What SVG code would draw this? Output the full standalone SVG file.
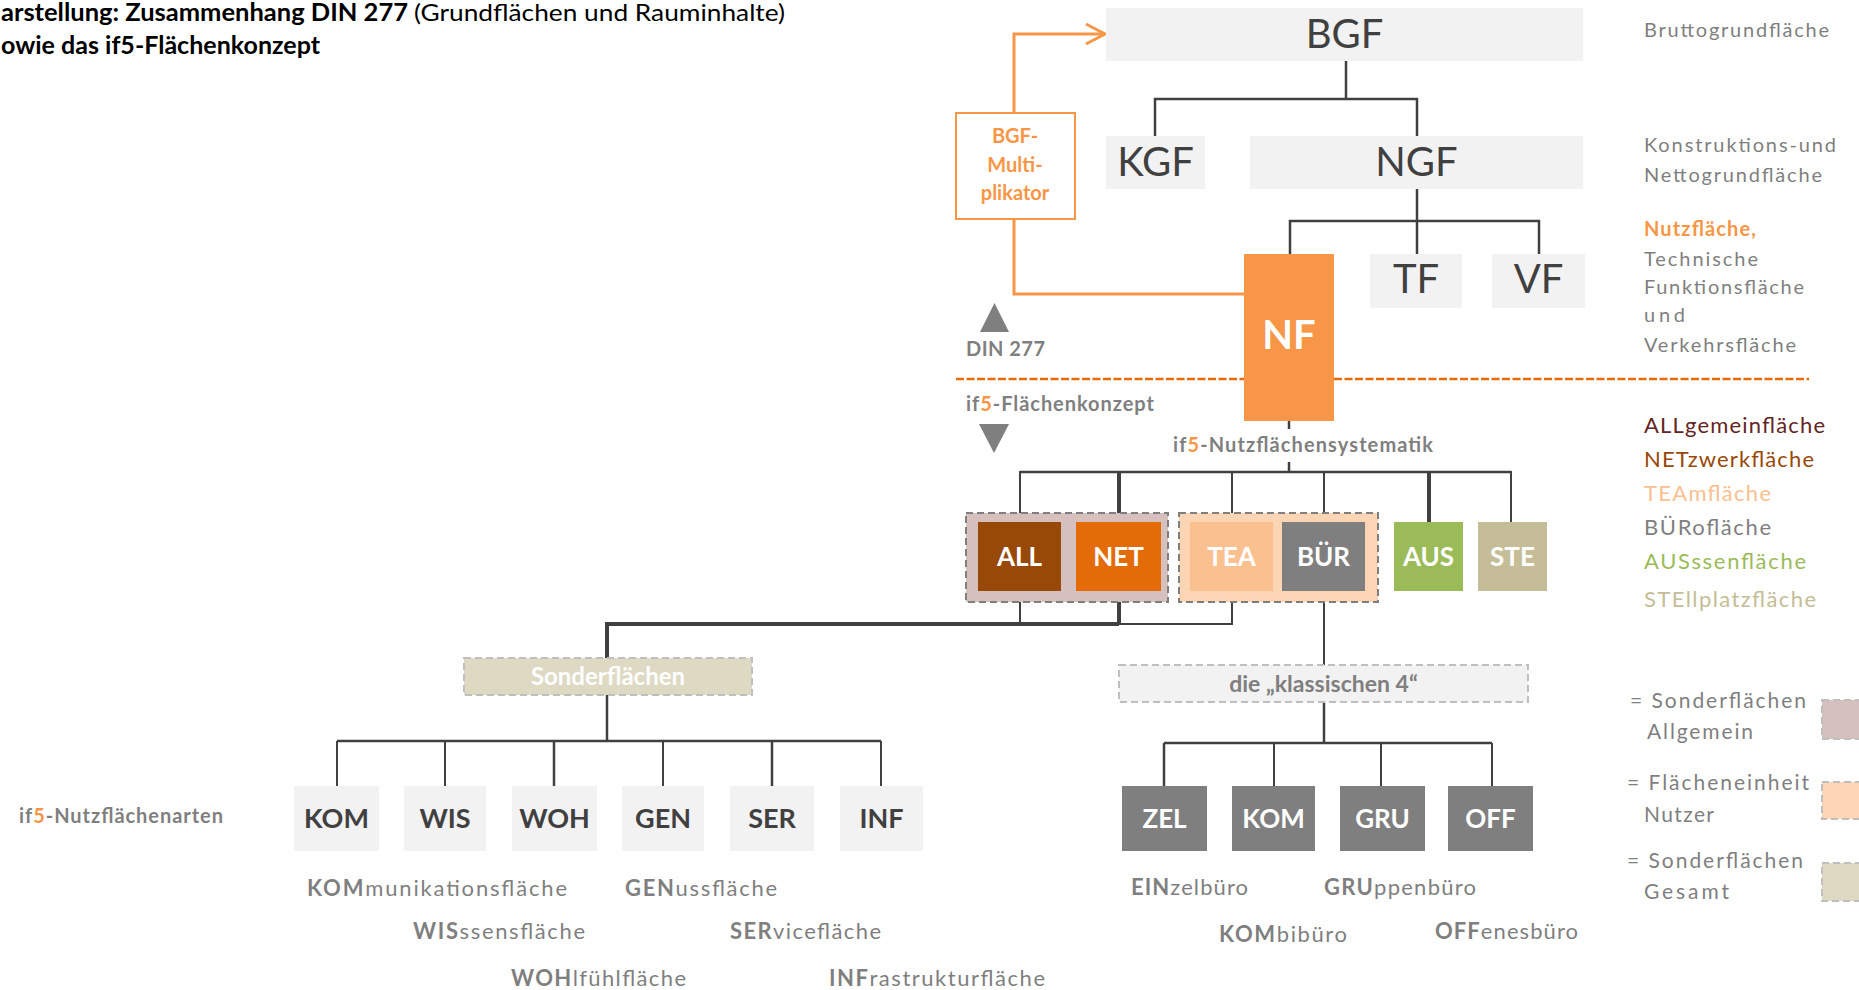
<svg xmlns="http://www.w3.org/2000/svg" width="1859" height="990" viewBox="0 0 1859 990">
  <defs>
    <style>
      text { font-family: Lato, "Open Sans", "Liberation Sans", sans-serif; }
      .ttl { font-size: 24px; fill: #000; }
      .b { font-weight: bold; }
      .big { font-size: 40px; fill: #404040; text-anchor: middle; }
      .box-lt { fill: #f2f2f2; }
      .tag { font-size: 26px; font-weight: bold; fill: #fff; text-anchor: middle; }
      .tagd { font-size: 27px; font-weight: bold; fill: #404040; text-anchor: middle; }
      .gr { fill: #7f7f7f; }
      .side { font-size: 20px; fill: #7f7f7f; }
      .lg { font-size: 21px; fill: #7f7f7f; }
      .leg { font-size: 22px; }
      .lbl { font-size: 22px; fill: #7f7f7f; }
      .sec { font-size: 20px; font-weight: bold; fill: #7f7f7f; }
      .mul { font-size: 20px; font-weight: bold; fill: #f79646; text-anchor: middle; }
      .o5 { fill: #f79646; }
      .ln { stroke: #404040; stroke-width: 2.5; fill: none; }
      .lnb { stroke: #404040; stroke-width: 4; fill: none; }
      .lnt { stroke: #404040; stroke-width: 2; fill: none; }
      .or { stroke: #f79646; stroke-width: 3; fill: none; }
      .grp { stroke: #7f7f7f; stroke-width: 2; stroke-dasharray: 7 4; }
      .dsh { stroke: #bfbfbf; stroke-width: 2; stroke-dasharray: 7 4; }
    </style>
  </defs>

  <!-- heading -->
  <g id="title">
    <text class="ttl b" x="1" y="21" textLength="407" lengthAdjust="spacingAndGlyphs">arstellung: Zusammenhang DIN 277</text>
    <text class="ttl" x="414" y="21" textLength="371" lengthAdjust="spacingAndGlyphs">(Grundflächen und Rauminhalte)</text>
    <text class="ttl b" x="1" y="54" textLength="319" lengthAdjust="spacingAndGlyphs">owie das if5-Flächenkonzept</text>
  </g>

  <!-- divider between DIN 277 and if5 -->
  <g id="divider">
    <line x1="956" y1="379" x2="1809" y2="379" stroke="#e46c0a" stroke-width="2.5" stroke-dasharray="8 2.5"/>
    <polygon class="gr" points="980,332 994.5,303 1009,332"/>
    <text class="sec" x="966" y="356" textLength="79" lengthAdjust="spacing">DIN 277</text>
    <text class="sec" x="966" y="411" textLength="188" lengthAdjust="spacing">if<tspan class="o5">5</tspan>-Flächenkonzept</text>
    <polygon class="gr" points="979,424 1009,424 994,453"/>
  </g>

  <!-- connectors -->
  <g id="connectors">
    <!-- DIN 277 tree -->
    <path class="ln" d="M1346 61 V99"/>
    <path class="ln" d="M1155 136 V99 H1417 V136" stroke-width="3"/>
    <path class="ln" d="M1417 189 V254" stroke-width="3"/>
    <path class="ln" d="M1290 254 V221 H1539 V254"/>
    <!-- multiplier loop -->
    <path class="or" d="M1244 294 H1014 V219"/>
    <path class="or" d="M1014 113 V34 H1104"/>
    <polyline class="or" points="1086,24 1105,34 1086,44" stroke-width="3.5"/>
    <!-- NF to if5 areas -->
    <path class="ln" d="M1289 421 V429"/>
    <path class="ln" d="M1289 462 V473"/>
    <path class="lnt" d="M1020 522 V472 H1511 V522"/>
    <path class="ln" d="M1020 472 H1511" stroke-width="3"/>
    <path class="lnb" d="M1119 472 V522" stroke-width="3"/>
    <path class="lnt" d="M1232 472 V522"/>
    <path class="lnt" d="M1324 472 V522"/>
    <path class="lnb" d="M1429 472 V522" stroke-width="3"/>
    <!-- special areas branch -->
    <path class="lnt" d="M1020 591 V624"/>
    <path class="lnb" d="M1119 591 V624" stroke-width="3"/>
    <path class="lnt" d="M1232 591 V624 H1119"/>
    <path class="lnb" d="M1119 624 H607 V658"/>
    <path class="ln" d="M607 695 V741"/>
    <path class="ln" d="M337 741 H881" stroke-width="3"/>
    <path class="lnt" d="M337 741 V786"/>
    <path class="lnt" d="M445 741 V786"/>
    <path class="ln" d="M554 741 V786" stroke-width="3"/>
    <path class="lnt" d="M663 741 V786"/>
    <path class="ln" d="M772 741 V786" stroke-width="3"/>
    <path class="lnt" d="M881 741 V786"/>
    <!-- office branch -->
    <path class="lnt" d="M1324 591 V665"/>
    <path class="ln" d="M1324 702 V743"/>
    <path class="ln" d="M1164 743 H1492" stroke-width="3.5"/>
    <path class="ln" d="M1164 743 V786" stroke-width="3"/>
    <path class="lnt" d="M1274 743 V786"/>
    <path class="lnt" d="M1381 743 V786"/>
    <path class="lnt" d="M1492 743 V786"/>
  </g>

  <!-- DIN 277 nodes -->
  <g id="n-bgf">
    <rect class="box-lt" x="1106" y="8" width="477" height="53"/>
    <text class="big" x="1344.5" y="48">BGF</text>
  </g>
  <g id="n-kgf">
    <rect class="box-lt" x="1106" y="136" width="99" height="53"/>
    <text class="big" x="1155.5" y="176">KGF</text>
  </g>
  <g id="n-ngf">
    <rect class="box-lt" x="1250" y="136" width="333" height="53"/>
    <text class="big" x="1416.5" y="176">NGF</text>
  </g>
  <g id="n-tf">
    <rect class="box-lt" x="1370" y="254" width="92" height="54"/>
    <text class="big" x="1416" y="293">TF</text>
  </g>
  <g id="n-vf">
    <rect class="box-lt" x="1492" y="254" width="93" height="54"/>
    <text class="big" x="1538.5" y="293">VF</text>
  </g>
  <g id="n-nf">
    <rect x="1244" y="254" width="90" height="167" fill="#f79646"/>
    <text class="big b" x="1289" y="349" style="fill:#fff">NF</text>
  </g>
  <g id="n-multiplikator">
    <rect x="956" y="113" width="119" height="106" fill="#fff" stroke="#f79646" stroke-width="2"/>
    <text class="mul" x="1015" y="143">BGF-</text>
    <text class="mul" x="1015" y="172">Multi-</text>
    <text class="mul" x="1015" y="200">plikator</text>
  </g>

  <!-- if5 usage areas -->
  <text class="sec" x="1173" y="452" textLength="260" lengthAdjust="spacing">if<tspan class="o5">5</tspan>-Nutzflächensystematik</text>

  <g id="grp-sonder-allgemein">
    <rect class="grp" x="966" y="513" width="202" height="89" fill="#d5c0bd"/>
  </g>
  <g id="grp-nutzer">
    <rect class="grp" x="1179" y="513" width="199" height="89" fill="#fcd5b5"/>
  </g>
  <g id="n-all">
    <rect x="978" y="522" width="83" height="69" fill="#984807"/>
    <text class="tag" x="1019.5" y="566">ALL</text>
  </g>
  <g id="n-net">
    <rect x="1076" y="522" width="85" height="69" fill="#e36c09"/>
    <text class="tag" x="1118.5" y="566">NET</text>
  </g>
  <g id="n-tea">
    <rect x="1190" y="522" width="83" height="69" fill="#fac090"/>
    <text class="tag" x="1231.5" y="566">TEA</text>
  </g>
  <g id="n-buer">
    <rect x="1282" y="522" width="83" height="69" fill="#7f7f7f"/>
    <text class="tag" x="1323.5" y="566">BÜR</text>
  </g>
  <g id="n-aus">
    <rect x="1394" y="522" width="69" height="69" fill="#9bbb59"/>
    <text class="tag" x="1428.5" y="566">AUS</text>
  </g>
  <g id="n-ste">
    <rect x="1478" y="522" width="69" height="69" fill="#c4bd97"/>
    <text class="tag" x="1512.5" y="566">STE</text>
  </g>

  <!-- special areas -->
  <g id="n-sonderflaechen">
    <rect class="dsh" x="464" y="658" width="288" height="37" fill="#ddd9c3"/>
    <text x="608" y="685" font-size="24" font-weight="bold" fill="#fff" text-anchor="middle">Sonderflächen</text>
  </g>
  <g id="n-kom">
    <rect class="box-lt" x="294" y="786" width="85" height="65"/>
    <text class="tagd" x="336.5" y="828">KOM</text>
  </g>
  <g id="n-wis">
    <rect class="box-lt" x="404" y="786" width="82" height="65"/>
    <text class="tagd" x="445" y="828">WIS</text>
  </g>
  <g id="n-woh">
    <rect class="box-lt" x="512" y="786" width="85" height="65"/>
    <text class="tagd" x="554.5" y="828">WOH</text>
  </g>
  <g id="n-gen">
    <rect class="box-lt" x="622" y="786" width="82" height="65"/>
    <text class="tagd" x="663" y="828">GEN</text>
  </g>
  <g id="n-ser">
    <rect class="box-lt" x="730" y="786" width="84" height="65"/>
    <text class="tagd" x="772" y="828">SER</text>
  </g>
  <g id="n-inf">
    <rect class="box-lt" x="840" y="786" width="83" height="65"/>
    <text class="tagd" x="881.5" y="828">INF</text>
  </g>
  <text class="sec" x="19" y="823" textLength="204" lengthAdjust="spacing">if<tspan class="o5">5</tspan>-Nutzflächenarten</text>

  <!-- office types -->
  <g id="n-klassische4">
    <rect class="dsh" x="1119" y="665" width="409" height="37" fill="#f2f2f2"/>
    <text x="1323.5" y="692" font-size="23" font-weight="bold" fill="#7f7f7f" text-anchor="middle">die „klassischen 4“</text>
  </g>
  <g id="n-zel">
    <rect x="1122" y="786" width="85" height="65" fill="#7f7f7f"/>
    <text class="tag" x="1164.5" y="828">ZEL</text>
  </g>
  <g id="n-kom2">
    <rect x="1232" y="786" width="83" height="65" fill="#7f7f7f"/>
    <text class="tag" x="1273.5" y="828">KOM</text>
  </g>
  <g id="n-gru">
    <rect x="1340" y="786" width="85" height="65" fill="#7f7f7f"/>
    <text class="tag" x="1382.5" y="828">GRU</text>
  </g>
  <g id="n-off">
    <rect x="1448" y="786" width="85" height="65" fill="#7f7f7f"/>
    <text class="tag" x="1490.5" y="828">OFF</text>
  </g>

  <!-- explanations of abbreviations -->
  <g id="labels-sonder">
    <text class="lbl" x="307" y="896" textLength="260" lengthAdjust="spacing"><tspan class="b">KOM</tspan>munikationsfläche</text>
    <text class="lbl" x="625" y="896" textLength="152" lengthAdjust="spacing"><tspan class="b">GEN</tspan>ussfläche</text>
    <text class="lbl" x="413" y="939" textLength="172" lengthAdjust="spacing"><tspan class="b">WIS</tspan>ssensfläche</text>
    <text class="lbl" x="730" y="939" textLength="151" lengthAdjust="spacing"><tspan class="b">SER</tspan>vicefläche</text>
    <text class="lbl" x="511" y="986" textLength="175" lengthAdjust="spacing"><tspan class="b">WOH</tspan>lfühlfläche</text>
    <text class="lbl" x="829" y="986" textLength="216" lengthAdjust="spacing"><tspan class="b">INF</tspan>rastrukturfläche</text>
  </g>
  <g id="labels-buero">
    <text class="lbl" x="1131" y="895" textLength="117" lengthAdjust="spacing"><tspan class="b">EIN</tspan>zelbüro</text>
    <text class="lbl" x="1324" y="895" textLength="152" lengthAdjust="spacing"><tspan class="b">GRU</tspan>ppenbüro</text>
    <text class="lbl" x="1219" y="942" textLength="128" lengthAdjust="spacing"><tspan class="b">KOM</tspan>bibüro</text>
    <text class="lbl" x="1435" y="939" textLength="143" lengthAdjust="spacing"><tspan class="b">OFF</tspan>enesbüro</text>
  </g>

  <!-- right column: DIN 277 terms -->
  <g id="terms-din">
    <text class="side" x="1644" y="37" textLength="185" lengthAdjust="spacing">Bruttogrundfläche</text>
    <text class="side" x="1644" y="152" textLength="192" lengthAdjust="spacing">Konstruktions-und</text>
    <text class="side" x="1644" y="182" textLength="178" lengthAdjust="spacing">Nettogrundfläche</text>
    <text class="side b" x="1644" y="236" textLength="112" lengthAdjust="spacing" style="fill:#f79646">Nutzfläche,</text>
    <text class="side" x="1644" y="266" textLength="114" lengthAdjust="spacing">Technische</text>
    <text class="side" x="1644" y="294" textLength="160" lengthAdjust="spacing">Funktionsfläche</text>
    <text class="side" x="1644" y="322" textLength="41" lengthAdjust="spacing">und</text>
    <text class="side" x="1644" y="352" textLength="152" lengthAdjust="spacing">Verkehrsfläche</text>
  </g>

  <!-- right column: if5 area names -->
  <g id="terms-if5">
    <text class="leg" x="1644" y="433" fill="#632523" textLength="181" lengthAdjust="spacing">ALLgemeinfläche</text>
    <text class="leg" x="1644" y="467" fill="#984807" textLength="170" lengthAdjust="spacing">NETzwerkfläche</text>
    <text class="leg" x="1644" y="501" fill="#fac090" textLength="127" lengthAdjust="spacing">TEAmfläche</text>
    <text class="leg" x="1644" y="535" fill="#7f7f7f" textLength="127" lengthAdjust="spacing">BÜRofläche</text>
    <text class="leg" x="1644" y="569" fill="#9bbb59" textLength="162" lengthAdjust="spacing">AUSssenfläche</text>
    <text class="leg" x="1644" y="607" fill="#c4bd97" textLength="172" lengthAdjust="spacing">STEllplatzfläche</text>
  </g>

  <!-- legend of the dashed groups -->
  <g id="legend">
    <text class="lg" x="1630" y="708" textLength="176" lengthAdjust="spacing">= Sonderflächen</text>
    <text class="lg" x="1647" y="739" textLength="106" lengthAdjust="spacing">Allgemein</text>
    <rect class="dsh" x="1822" y="700" width="50" height="39" fill="#d5c0bd"/>
    <text class="lg" x="1627" y="790" textLength="182" lengthAdjust="spacing">= Flächeneinheit</text>
    <text class="lg" x="1644" y="822" textLength="70" lengthAdjust="spacing">Nutzer</text>
    <rect class="dsh" x="1822" y="782" width="50" height="37" fill="#fcd5b5"/>
    <text class="lg" x="1627" y="868" textLength="176" lengthAdjust="spacing">= Sonderflächen</text>
    <text class="lg" x="1644" y="899" textLength="85" lengthAdjust="spacing">Gesamt</text>
    <rect class="dsh" x="1822" y="863" width="50" height="38" fill="#ddd9c3"/>
  </g>
</svg>
